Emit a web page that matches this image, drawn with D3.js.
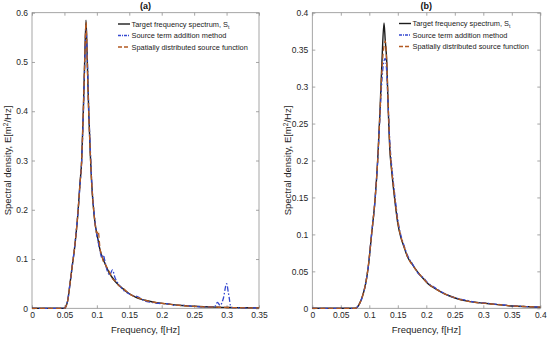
<!DOCTYPE html>
<html>
<head>
<meta charset="utf-8">
<script src="https://cdn.jsdelivr.net/npm/d3@7"></script>
<style>
  body { margin: 0; background: #fff; }
  text { font-family: "Liberation Sans", Arial, sans-serif; }
</style>
</head>
<body>
<div id="chart"></div>
<script>
// panel (a)
var freqA = [0, 0.03, 0.05, 0.052, 0.055, 0.0586, 0.062, 0.0653, 0.068, 0.0704,
             0.074, 0.0766, 0.0791, 0.0812, 0.0833, 0.0853, 0.0874, 0.090, 0.092, 0.096,
             0.100, 0.102, 0.105, 0.108, 0.110, 0.1125, 0.116, 0.120, 0.124, 0.128,
             0.133, 0.140, 0.1485, 0.156, 0.164, 0.172, 0.1845, 0.195, 0.21, 0.22,
             0.231, 0.25, 0.265, 0.275, 0.282, 0.286, 0.29, 0.295, 0.30, 0.303,
             0.307, 0.315, 0.33, 0.35];
var targetA = [0, 0, 0, 0.003, 0.015, 0.05, 0.085, 0.118, 0.152, 0.186,
               0.254, 0.30, 0.40, 0.50, 0.585, 0.50, 0.40, 0.31, 0.254, 0.186,
               0.150, 0.138, 0.118, 0.105, 0.098, 0.091, 0.080, 0.070, 0.062, 0.055,
               0.048, 0.040, 0.031, 0.025, 0.020, 0.017, 0.0134, 0.011, 0.0087, 0.007,
               0.0057, 0.0042, 0.0032, 0.0027, 0.0024, 0.0022, 0.002, 0.0019, 0.0017, 0.0016,
               0.0015, 0.0013, 0.001, 0.0008];
var sourceA = [0, 0, 0, 0.003, 0.016, 0.05, 0.086, 0.12, 0.153, 0.188,
               0.25, 0.30, 0.39, 0.49, 0.565, 0.51, 0.41, 0.32, 0.26, 0.19,
               0.148, 0.135, 0.115, 0.102, 0.108, 0.095, 0.076, 0.068, 0.078, 0.062,
               0.050, 0.038, 0.030, 0.026, 0.023, 0.016, 0.012, 0.010, 0.009, 0.006,
               0.006, 0.004, 0.003, 0.003, 0.004, 0.012, 0.006, 0.02, 0.05, 0.03,
               0.002, 0.001, 0.001, 0.0008];
var spatialA = [0, 0, 0, 0.003, 0.015, 0.05, 0.085, 0.119, 0.152, 0.187,
                0.252, 0.30, 0.40, 0.50, 0.58, 0.49, 0.40, 0.31, 0.255, 0.187,
                0.152, 0.157, 0.12, 0.106, 0.095, 0.09, 0.082, 0.072, 0.06, 0.056,
                0.047, 0.041, 0.031, 0.025, 0.021, 0.017, 0.013, 0.011, 0.0085, 0.007,
                0.0055, 0.004, 0.003, 0.0027, 0.0024, 0.0022, 0.002, 0.0019, 0.0017, 0.0016,
                0.0015, 0.0013, 0.001, 0.0008];

// panel (b)
var freqB = [0, 0.04, 0.075, 0.078, 0.082, 0.0895, 0.094, 0.0982, 0.104, 0.110,
             0.115, 0.1188, 0.1223, 0.1258, 0.128, 0.1305, 0.1333, 0.136, 0.139, 0.142,
             0.146, 0.150, 0.155, 0.160, 0.168, 0.175, 0.186, 0.195, 0.2035, 0.215,
             0.227, 0.24, 0.256, 0.27, 0.2855, 0.30, 0.315, 0.33, 0.344, 0.36,
             0.375, 0.39, 0.4];
var targetB = [0, 0, 0, 0.001, 0.005, 0.02, 0.035, 0.056, 0.10, 0.146,
               0.205, 0.268, 0.336, 0.386, 0.362, 0.336, 0.268, 0.215, 0.188, 0.165,
               0.138, 0.115, 0.097, 0.085, 0.068, 0.060, 0.048, 0.040, 0.033, 0.027,
               0.0216, 0.017, 0.0126, 0.010, 0.0081, 0.007, 0.0058, 0.0046, 0.0035, 0.0028,
               0.0023, 0.0018, 0.0015];
var sourceB = [0, 0, 0, 0.001, 0.005, 0.02, 0.035, 0.056, 0.10, 0.146,
               0.203, 0.262, 0.31, 0.335, 0.338, 0.32, 0.27, 0.225, 0.195, 0.172,
               0.145, 0.12, 0.1, 0.087, 0.07, 0.061, 0.047, 0.041, 0.034, 0.028,
               0.022, 0.017, 0.013, 0.011, 0.008, 0.0075, 0.006, 0.005, 0.0038, 0.003,
               0.0024, 0.0019, 0.0015];
var spatialB = [0, 0, 0, 0.001, 0.005, 0.02, 0.035, 0.057, 0.10, 0.147,
                0.204, 0.265, 0.325, 0.355, 0.362, 0.335, 0.272, 0.22, 0.19, 0.168,
                0.14, 0.117, 0.098, 0.086, 0.068, 0.059, 0.048, 0.040, 0.033, 0.027,
                0.0215, 0.017, 0.0128, 0.010, 0.008, 0.007, 0.0058, 0.0046, 0.0036, 0.0028,
                0.0023, 0.0018, 0.0015];

var xTicksA = [0, 0.05, 0.1, 0.15, 0.2, 0.25, 0.3, 0.35];
var yTicksA = [0, 0.1, 0.2, 0.3, 0.4, 0.5, 0.6];
var xTicksB = [0, 0.05, 0.1, 0.15, 0.2, 0.25, 0.3, 0.35, 0.4];
var yTicksB = [0, 0.05, 0.1, 0.15, 0.2, 0.25, 0.3, 0.35, 0.4];

var legendLabels = ["Target frequency spectrum, S", "Source term addition method",
                    "Spatially distributed source function"];

var w = 550;
var h = 338;

var colors = ['#1c1c1c', '#3448d0', '#b35a22'];
var dashes = [null, '5,2,1.5,2', '5,3'];
var axisColor = '#8f8f8f';
var fmt = d3.format('~g');

var svg = d3.select('#chart').append('svg')
            .attr('width', w)
            .attr('height', h);

var drawPanel = function(p) {
  var x = d3.scaleLinear().domain([0, p.xTicks[p.xTicks.length - 1]]).range([p.left, p.right]);
  var y = d3.scaleLinear().domain([0, p.yTicks[p.yTicks.length - 1]]).range([p.bottom, p.top]);
  var g = svg.append('g');

  // frame
  g.append('rect')
   .attr('x', p.left).attr('y', p.top)
   .attr('width', p.right - p.left).attr('height', p.bottom - p.top)
   .attr('fill', 'none').attr('stroke', axisColor).attr('stroke-width', 0.8);

  // axes with inward ticks, mirrored on top and right
  var bx = g.append('g').attr('transform', 'translate(0,' + p.bottom + ')')
            .call(d3.axisBottom(x).tickValues(p.xTicks).tickSize(-3).tickPadding(4).tickFormat(fmt));
  var tx = g.append('g').attr('transform', 'translate(0,' + p.top + ')')
            .call(d3.axisTop(x).tickValues(p.xTicks).tickSize(-3).tickFormat(''));
  var ly = g.append('g').attr('transform', 'translate(' + p.left + ',0)')
            .call(d3.axisLeft(y).tickValues(p.yTicks).tickSize(-3).tickPadding(4).tickFormat(fmt));
  var ry = g.append('g').attr('transform', 'translate(' + p.right + ',0)')
            .call(d3.axisRight(y).tickValues(p.yTicks).tickSize(-3).tickFormat(''));
  [bx, tx, ly, ry].forEach(function(a) {
    a.select('.domain').remove();
    a.selectAll('line').attr('stroke', axisColor).attr('stroke-width', 0.8);
    a.selectAll('text').attr('fill', '#262626').style('font-size', '8.5px')
     .style('font-family', '"Liberation Sans", Arial, sans-serif');
  });

  // curves: target, source term, spatially distributed
  var series = [p.target, p.source, p.spatial];
  var line = d3.line()
               .x(function(d) { return x(d[0]); })
               .y(function(d) { return y(d[1]); })
               .curve(d3.curveMonotoneX);
  series.forEach(function(vals, i) {
    var pts = p.freq.map(function(f, j) { return [f, vals[j]]; });
    g.append('path')
     .datum(pts)
     .attr('d', line)
     .attr('fill', 'none')
     .attr('stroke', colors[i])
     .attr('stroke-width', i === 0 ? 1.4 : 1.3)
     .attr('stroke-dasharray', dashes[i]);
  });

  // title
  g.append('text')
   .attr('x', (p.left + p.right) / 2).attr('y', 9)
   .attr('text-anchor', 'middle')
   .style('font-size', '9px').style('font-weight', 'bold')
   .attr('fill', '#111')
   .text(p.title);

  // axis labels
  g.append('text')
   .attr('x', (p.left + p.right) / 2).attr('y', 333)
   .attr('text-anchor', 'middle')
   .style('font-size', '9.5px').attr('fill', '#262626')
   .text('Frequency, f[Hz]');

  var yl = g.append('text')
            .attr('transform', 'translate(' + (p.left - 21) + ',' + ((p.top + p.bottom) / 2) + ') rotate(-90)')
            .attr('text-anchor', 'middle')
            .style('font-size', '9.5px').attr('fill', '#262626');
  yl.append('tspan').text('Spectral density, E[m');
  yl.append('tspan').attr('dy', -3.5).style('font-size', '6.5px').text('2');
  yl.append('tspan').attr('dy', 3.5).text('/Hz]');

  // legend, no box
  legendLabels.forEach(function(lab, i) {
    var ly0 = p.legendY + i * 11.5;
    g.append('line')
     .attr('x1', p.legendX).attr('x2', p.legendX + 12)
     .attr('y1', ly0).attr('y2', ly0)
     .attr('stroke', colors[i]).attr('stroke-width', 1.4)
     .attr('stroke-dasharray', i === 1 ? '3,1,1,1' : (i === 2 ? '4,2' : null));
    var t = g.append('text')
             .attr('x', p.legendX + 13.5).attr('y', ly0 + 2.8)
             .style('font-size', '7.4px').attr('fill', '#1a1a1a')
             .text(lab);
    if (i === 0) {
      t.append('tspan').attr('dy', 2).style('font-size', '5.2px').text('t');
    }
  });
};

drawPanel({
  title: '(a)', left: 32, right: 259, top: 12.7, bottom: 308.3,
  xTicks: xTicksA, yTicks: yTicksA,
  freq: freqA, target: targetA, source: sourceA, spatial: spatialA,
  legendX: 118, legendY: 24
});

drawPanel({
  title: '(b)', left: 312.3, right: 540.3, top: 12.7, bottom: 308.3,
  xTicks: xTicksB, yTicks: yTicksB,
  freq: freqB, target: targetB, source: sourceB, spatial: spatialB,
  legendX: 399, legendY: 23.5
});
</script>
</body>
</html>
